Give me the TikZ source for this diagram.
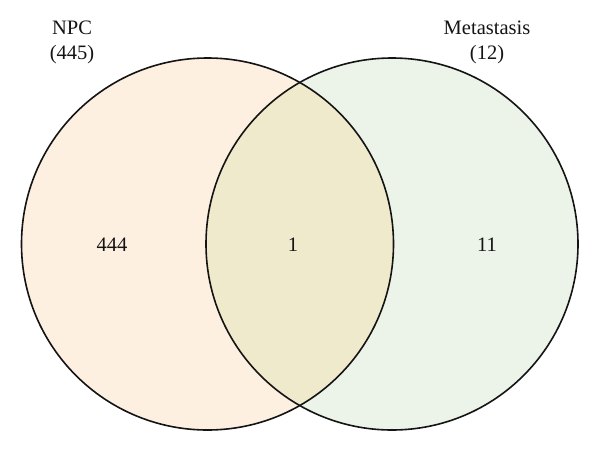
\documentclass[tikz,border=0pt]{standalone}
\usepackage{fontspec}
\setmainfont{Liberation Serif}
\definecolor{npcfill}{RGB}{253,240,224}
\definecolor{metfill}{RGB}{236,244,234}
\definecolor{bothfill}{RGB}{240,234,205}
\definecolor{inkc}{RGB}{20,20,20}
\begin{document}
\begin{tikzpicture}[x=1pt,y=-1pt,
  setcircle/.style={circle, minimum size=372pt, inner sep=0pt, line width=1.6pt, draw=inkc},
  lbl/.style={font=\fontsize{20.5}{25}\selectfont, text=inkc, align=center},
  num/.style={font=\fontsize{20.5}{25}\selectfont, text=inkc}]
\useasboundingbox (0,0) rectangle (600,453);
\fill[npcfill] (207.5,244) circle[radius=186];
\fill[metfill] (392,244) circle[radius=186];
\begin{scope}
  \clip (207.5,244) circle[radius=186];
  \fill[bothfill] (392,244) circle[radius=186];
\end{scope}
\node[setcircle] (npc) at (207.5,244) {};
\node[setcircle] (met) at (392,244) {};
\node[lbl] (npclbl) at (72,42.5) {NPC\\(445)};
\node[lbl] (metlbl) at (487,42.5) {Metastasis\\(12)};
\node[num] (only1) at (112,245) {444};
\node[num] (both) at (293,245) {1};
\node[num] (only2) at (487,245) {11};
\end{tikzpicture}
\end{document}
